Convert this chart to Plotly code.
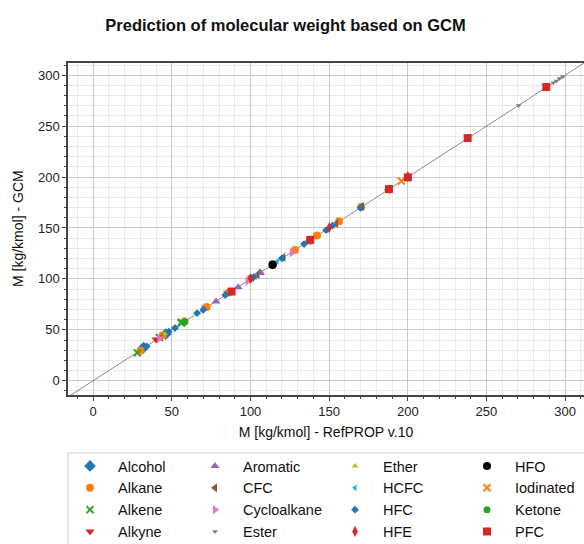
import plotly.graph_objects as go

# Molecular weights [kg/kmol]: RefPROP v.10 reference vs. group contribution method (GCM)
alcohol_ref = [32.04, 46.07]
alcohol_gcm = [32.6, 45.7]
alkane_ref = [30.07, 44.10, 58.12, 72.15, 86.18, 100.20, 114.23, 128.26, 142.28, 156.31, 170.33]
alkane_gcm = [29.7, 44.4, 58.1, 72.5, 86.6, 100.4, 114.3, 128.4, 142.5, 156.5, 170.6]
alkene_ref = [28.05, 42.08, 56.11, 56.11]
alkene_gcm = [27.4, 42.5, 56.6, 57.4]
alkyne_ref = [40.06]
alkyne_gcm = [40.4]
aromatic_ref = [78.11, 92.14, 106.17, 106.17]
aromatic_gcm = [77.8, 91.7, 105.8, 106.5]
cfc_ref = [104.46, 120.91, 137.37, 154.47, 170.92, 187.38]
cfc_gcm = [104.2, 121.2, 137.6, 154.3, 171.2, 187.6]
cycloalkane_ref = [42.08, 70.13, 84.16, 98.19, 126.24]
cycloalkane_gcm = [41.6, 70.4, 84.5, 97.8, 125.8]
ester_ref = [270.45, 292.46, 294.47, 296.49, 298.50]
ester_gcm = [270.3, 292.6, 294.3, 296.7, 298.4]
ether_ref = [46.07]
ether_gcm = [46.4]
hcfc_ref = [86.47, 100.50, 102.92, 116.95, 136.48, 152.93]
hcfc_gcm = [86.2, 100.8, 102.6, 117.2, 136.7, 152.6]
hfc_ref = [34.03, 48.06, 52.02, 66.05, 70.01, 84.04, 102.03, 120.02, 134.05, 148.07, 152.04, 170.03]
hfc_gcm = [33.8, 48.3, 51.8, 66.3, 69.7, 84.3, 101.8, 120.3, 134.2, 147.8, 152.3, 169.8]
hfe_ref = [100.04, 150.05, 200.05]
hfe_gcm = [100.4, 150.3, 200.4]
hfo_ref = [114.04, 114.04]
hfo_gcm = [113.6, 114.2]
iodinated_ref = [195.91]
iodinated_gcm = [196.2]
ketone_ref = [58.08]
ketone_gcm = [57.8]
pfc_ref = [88.00, 138.01, 188.02, 200.03, 238.03, 288.03]
pfc_gcm = [87.6, 138.3, 188.2, 199.7, 238.3, 288.4]

# axis limits
x_range = [-16, 312]
y_range = [-14, 312]

# (name, reference values, GCM values, colour, symbol, size, legend column)
series = [
    ("Alcohol", alcohol_ref, alcohol_gcm, "#1f77b4", "diamond", 9, "legend"),
    ("Alkane", alkane_ref, alkane_gcm, "#ff7f0e", "circle", 8, "legend"),
    ("Alkene", alkene_ref, alkene_gcm, "#2ca02c", "x-thin", 7, "legend"),
    ("Alkyne", alkyne_ref, alkyne_gcm, "#d62728", "triangle-down", 8, "legend"),
    ("Aromatic", aromatic_ref, aromatic_gcm, "#9467bd", "triangle-up", 8, "legend2"),
    ("CFC", cfc_ref, cfc_gcm, "#8c564b", "triangle-left", 8, "legend2"),
    ("Cycloalkane", cycloalkane_ref, cycloalkane_gcm, "#e377c2", "triangle-right", 8, "legend2"),
    ("Ester", ester_ref, ester_gcm, "#7f7f7f", "triangle-down", 5, "legend2"),
    ("Ether", ether_ref, ether_gcm, "#bcbd22", "triangle-up", 6, "legend3"),
    ("HCFC", hcfc_ref, hcfc_gcm, "#17becf", "triangle-left", 6, "legend3"),
    ("HFC", hfc_ref, hfc_gcm, "#1f77b4", "diamond", 6, "legend3"),
    ("HFE", hfe_ref, hfe_gcm, "#d62728", "diamond-tall", 8, "legend3"),
    ("HFO", hfo_ref, hfo_gcm, "#000000", "circle", 8, "legend4"),
    ("Iodinated", iodinated_ref, iodinated_gcm, "#ff7f0e", "x-thin", 7, "legend4"),
    ("Ketone", ketone_ref, ketone_gcm, "#2ca02c", "circle", 7, "legend4"),
    ("PFC", pfc_ref, pfc_gcm, "#d62728", "square", 8, "legend4"),
]

fig = go.Figure()

# parity line y = x across the whole plotting window
fig.add_trace(go.Scatter(
    x=x_range, y=x_range, mode="lines",
    line=dict(color="#8a8a8a", width=1), showlegend=False, hoverinfo="skip",
))

for name, ref, gcm, color, symbol, size, leg in series:
    thin = symbol == "x-thin"
    fig.add_trace(go.Scatter(
        x=ref, y=gcm, mode="markers", name=name, legend=leg,
        marker=dict(symbol=symbol, size=size, color=color,
                    line=dict(color=color, width=2 if thin else 0)),
    ))

W, H = 584, 544
L, R, T, B = 68, 0, 63, 149
plot_w, plot_h = W - L - R, H - T - B


def cx(px):
    return px / W


def cy(py):
    return 1 - py / H


def px_x(px):
    return (px - L) / plot_w


def px_y(py):
    return (H - B - py) / plot_h


legend_font = dict(family="Liberation Sans, Arial, sans-serif", size=14.5, color="#111")
legend_common = dict(
    orientation="v", xanchor="left", yanchor="top", xref="container", yref="container",
    bgcolor="rgba(0,0,0,0)", borderwidth=0, font=legend_font, itemclick=False,
    tracegroupgap=0, itemwidth=46,
)

axis_font = dict(family="Liberation Sans, Arial, sans-serif", size=13, color="#222")
title_font = dict(family="Liberation Sans, Arial, sans-serif", size=14, color="#111")

common_axis = dict(
    showline=True, mirror=True, linecolor="#444", linewidth=1.5,
    ticks="outside", ticklen=4, tickwidth=1, tickcolor="#444",
    showgrid=True, gridcolor="#c9c9c9", gridwidth=1, zeroline=False,
    tickfont=axis_font, tick0=0, dtick=50,
    minor=dict(dtick=10, tick0=0, ticks="outside", ticklen=2, tickcolor="#444",
               showgrid=True, gridcolor="#ececec", gridwidth=1),
)

legend_top = 450

fig.update_layout(
    width=W, height=H,
    margin=dict(l=L, r=R, t=T, b=B, pad=0, autoexpand=False),
    paper_bgcolor="white", plot_bgcolor="white",
    title=dict(text="<b>Prediction of molecular weight based on GCM</b>",
               x=285.5 / W, xanchor="center", y=1 - 25 / H, yanchor="middle",
               font=dict(family="Liberation Sans, Arial, sans-serif", size=16.5, color="#111")),
    xaxis=dict(range=x_range, title=dict(text="M [kg/kmol] - RefPROP v.10", font=title_font, standoff=9),
               **common_axis),
    yaxis=dict(range=y_range, **common_axis),
    legend=dict(x=cx(62), y=cy(legend_top), **legend_common),
    legend2=dict(x=cx(187), y=cy(legend_top), **legend_common),
    legend3=dict(x=cx(327), y=cy(legend_top), **legend_common),
    legend4=dict(x=cx(459), y=cy(legend_top), **legend_common),
    annotations=[dict(text="M [kg/kmol] - GCM", textangle=-90, font=title_font,
                      xref="paper", yref="paper", x=px_x(18), y=px_y(229),
                      xanchor="center", yanchor="middle", showarrow=False)],
    shapes=[dict(type="rect", xref="paper", yref="paper",
                 x0=px_x(68), x1=px_x(600), y0=px_y(560), y1=px_y(453),
                 line=dict(color="#cfcfcf", width=1), fillcolor="rgba(0,0,0,0)")],
)

fig.write_html("out.html")
